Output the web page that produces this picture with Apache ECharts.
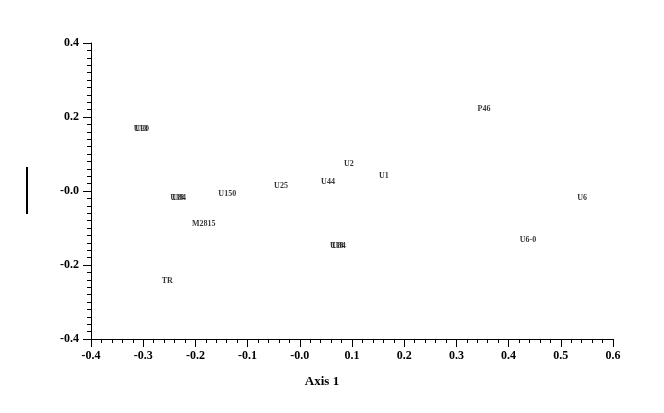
<!DOCTYPE html>
<html>
<head>
<meta charset="utf-8">
<script src="https://cdn.jsdelivr.net/npm/echarts@6/dist/echarts.min.js"></script>
<style>html,body{margin:0;padding:0;background:#fff}#c{width:664px;height:413px}</style>
</head>
<body>
<div id="c"></div>
<script>
var names = ['U13','U30','U18','U84','U150','U25','M2815','U44','U2','U1','U18','U84','P46','U6','U6-0','TR'];
var xs = [-0.305,-0.302,-0.235,-0.231,-0.139,-0.036,-0.184,0.054,0.094,0.161,0.071,0.075,0.353,0.541,0.437,-0.254];
var ys = [0.168,0.168,-0.019,-0.019,-0.008,0.014,-0.089,0.024,0.073,0.041,-0.149,-0.149,0.222,-0.019,-0.132,-0.243];
var xTicks = {min:-0.4, max:0.6, interval:0.1};
var yTicks = {min:-0.4, max:0.4, interval:0.2};
var data = names.map(function(n,i){return [xs[i], ys[i], n];});
function fmt(v){ return Math.abs(v) < 1e-9 ? '-0.0' : v.toFixed(1); }
var font = '"Liberation Serif", "Times New Roman", serif';
var chart = echarts.init(document.getElementById('c'));
chart.setOption({
  animation:false,
  grid:{left:91,right:51,top:43,bottom:74},
  xAxis:{
    type:'value', min:xTicks.min, max:xTicks.max, interval:xTicks.interval,
    name:'Axis 1', nameLocation:'middle', nameGap:36,
    nameTextStyle:{fontFamily:font,fontWeight:'bold',fontSize:13,color:'#000',padding:[0,60,0,0]},
    axisLine:{onZero:false,lineStyle:{color:'#000',width:1}},
    axisTick:{show:true,length:8,lineStyle:{color:'#000'}},
    minorTick:{show:true,splitNumber:5,length:4,lineStyle:{color:'#000'}},
    splitLine:{show:false},
    axisLabel:{formatter:fmt,margin:11,fontFamily:font,fontWeight:'bold',fontSize:12,color:'#000'}
  },
  yAxis:{
    type:'value', min:yTicks.min, max:yTicks.max, interval:yTicks.interval,
    axisLine:{show:true,onZero:false,lineStyle:{color:'#000',width:1}},
    axisTick:{show:true,length:8,lineStyle:{color:'#000'}},
    minorTick:{show:true,splitNumber:10,length:4,lineStyle:{color:'#000'}},
    splitLine:{show:false},
    axisLabel:{formatter:fmt,margin:12,fontFamily:font,fontWeight:'bold',fontSize:12,color:'#000'}
  },
  graphic:[{type:'rect',left:26,top:167,shape:{width:2,height:47},style:{fill:'#000'}}],
  series:[{
    type:'scatter', data:data, symbolSize:1,
    itemStyle:{color:'rgba(0,0,0,0)'},
    label:{show:true,position:'inside',formatter:function(p){return p.value[2];},
      fontFamily:font,fontWeight:'bold',fontSize:8,color:'#000'}
  }]
});
</script>
</body>
</html>
